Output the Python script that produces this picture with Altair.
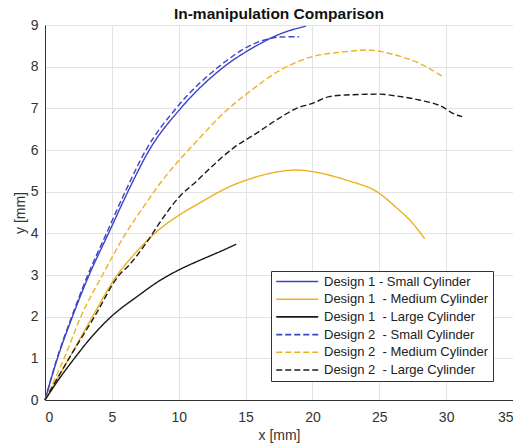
import altair as alt
import pandas as pd

# ---- data ----
labels = [
    "Design 1 - Small Cylinder",
    "Design 1\u00a0 - Medium Cylinder",
    "Design 1\u00a0 - Large Cylinder",
    "Design 2\u00a0 - Small Cylinder",
    "Design 2\u00a0 - Medium Cylinder",
    "Design 2\u00a0 - Large Cylinder",
]

d1_small_x = [0, 0.93, 2.05, 3.3, 4.75, 6.2, 7.8, 10.15, 13.4, 15.8, 17.7, 19.5]
d1_small_y = [0, 1.0, 2.0, 3.0, 4.0, 5.0, 6.0, 7.0, 8.0, 8.5, 8.8, 8.97]

d1_medium_x = [0, 1.8, 3.55, 5.4, 6.3, 8.8, 10.05, 11.3, 12.6, 13.8, 15, 16.3, 17.5, 18.8, 20, 22.5, 25, 26.2, 27.5, 28.4]
d1_medium_y = [0, 1.0, 2.0, 3.0, 3.36, 4.16, 4.44, 4.68, 4.92, 5.12, 5.27, 5.4, 5.48, 5.52, 5.48, 5.28, 4.96, 4.64, 4.24, 3.87]

d1_large_x = [0, 1, 2.2, 3.5, 4.95, 7.05, 8.5, 10, 11.2, 12.5, 13.5, 14.3]
d1_large_y = [0, 0.48, 1.0, 1.52, 2.0, 2.52, 2.85, 3.12, 3.3, 3.48, 3.62, 3.74]

d2_small_x = [0, 0.9, 2.0, 3.2, 4.6, 6.0, 7.55, 9.8, 13.0, 15.3, 16.5, 17.5, 19.0]
d2_small_y = [0, 1.0, 2.0, 3.0, 4.0, 5.0, 6.0, 7.0, 8.0, 8.5, 8.65, 8.71, 8.72]

d2_medium_x = [0, 1.43, 2.68, 4.3, 5.95, 7.55, 8.8, 10.05, 11.6, 13.4, 15.5, 17.5, 20, 22.5, 24.1, 25, 26.2, 28, 29.8]
d2_medium_y = [0, 1.0, 2.0, 3.0, 3.95, 4.72, 5.28, 5.76, 6.3, 6.9, 7.45, 7.9, 8.24, 8.36, 8.4, 8.37, 8.28, 8.08, 7.75]

d2_large_x = [0, 1.8, 3.7, 5.55, 6.3, 7.55, 8.8, 10.05, 11.3, 12.8, 14.1, 15.8, 17.5, 18.8, 20, 21.25, 22.5, 25, 26.2, 28, 29.7, 30.5, 31.2]
d2_large_y = [0, 1.0, 2.0, 3.0, 3.24, 3.76, 4.36, 4.88, 5.24, 5.7, 6.05, 6.4, 6.76, 7.0, 7.12, 7.28, 7.32, 7.34, 7.3, 7.2, 7.04, 6.88, 6.8]

x_ticks = [0, 5, 10, 15, 20, 25, 30, 35]
y_ticks = [0, 1, 2, 3, 4, 5, 6, 7, 8, 9]

series = [
    (labels[0], d1_small_x, d1_small_y),
    (labels[1], d1_medium_x, d1_medium_y),
    (labels[2], d1_large_x, d1_large_y),
    (labels[3], d2_small_x, d2_small_y),
    (labels[4], d2_medium_x, d2_medium_y),
    (labels[5], d2_large_x, d2_large_y),
]

rows = []
for name, xs, ys in series:
    for i, (xv, yv) in enumerate(zip(xs, ys)):
        rows.append({"series": name, "x": xv, "y": yv, "order": i})
df = pd.DataFrame(rows)

colors = ["#3a44c4", "#EDB120", "#1a1a1a", "#3a44c4", "#EDB120", "#1a1a1a"]
dashes = [[1, 0], [1, 0], [1, 0], [6, 3], [6, 3], [6, 3]]

font = "Liberation Sans"

chart = alt.Chart(df).mark_line(strokeWidth=1.4, interpolate="monotone").encode(
    x=alt.X("x:Q", scale=alt.Scale(domain=[0, 35], nice=False),
            axis=alt.Axis(values=x_ticks, title="x [mm]", format="d", labelPadding=10, titlePadding=4)),
    y=alt.Y("y:Q", scale=alt.Scale(domain=[0, 9], nice=False),
            axis=alt.Axis(values=y_ticks, title="y [mm]", format="d", labelPadding=7, titlePadding=3)),
    color=alt.Color("series:N", scale=alt.Scale(domain=labels, range=colors),
                    legend=alt.Legend(title=None, orient="none", legendX=226, legendY=246,
                                      symbolType="M-1,0H7", symbolSize=110, symbolStrokeWidth=1.6,
                                      labelFontSize=13, labelFont=font, labelColor="#222",
                                      strokeColor="#333", fillColor="white", padding=4,
                                      rowPadding=3.7, labelOffset=36, labelLimit=300)),
    strokeDash=alt.StrokeDash("series:N", scale=alt.Scale(domain=labels, range=dashes), legend=None),
    order="order:Q",
).properties(
    width=468, height=375,
    title=alt.TitleParams("In-manipulation Comparison", fontSize=15.5, font=font,
                          fontWeight="bold", color="#111", offset=-4),
    autosize=alt.AutoSizeParams(type="none"),
    padding={"left": 37, "top": 17, "right": 0, "bottom": 47},
).configure_view(stroke=None).configure_axis(
    labelFont=font, labelFontSize=14, labelColor="#333", titleFont=font, titleFontSize=14,
    titleFontWeight="normal", titleColor="#333", grid=True, gridColor="#e3e3e3",
    domainColor="#333", ticks=False,
)

chart.save("out.html", embed_options={"renderer": "svg", "actions": False})
